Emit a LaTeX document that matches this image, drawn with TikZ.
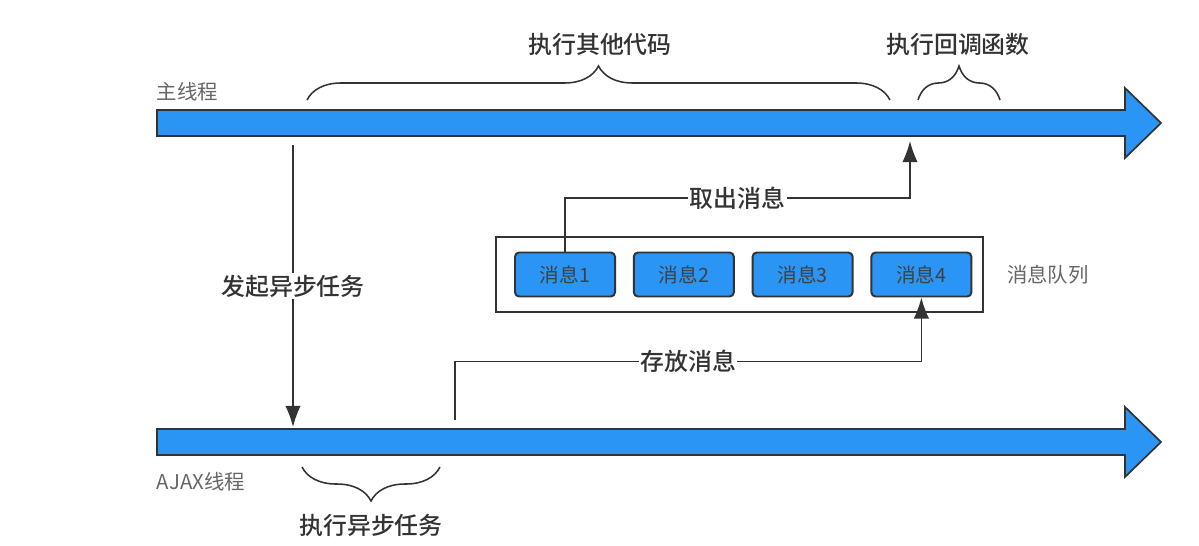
\documentclass[tikz,border=0pt]{standalone}
\usepackage{fontspec}
\setmainfont{Noto Sans CJK SC}
\newfontfamily\medfont{Noto Sans CJK SC Medium}
\usetikzlibrary{arrows.meta,calc,decorations.pathreplacing,positioning}
\definecolor{threadblue}{HTML}{2B95F6}
\definecolor{linegray}{HTML}{333333}

\begin{document}
\begin{tikzpicture}[x=0.025cm, y=-0.025cm,
  lbl/.style={font=\medfont\fontsize{17}{20}\selectfont, text=black!80},
  tag/.style={font=\fontsize{14.5}{17}\selectfont, text=black!60},
  msg/.style={draw=linegray, line width=1.4pt, fill=threadblue, rounded corners=3pt,
    minimum width=2.5cm, minimum height=1.1cm, inner sep=0pt,
    font=\fontsize{14}{16}\selectfont, text=black!75},
  link/.style={draw=linegray, line width=1.1pt},
  tip/.style={-{Latex[length=15pt,width=11pt]}},
  bracket/.style={decorate, decoration={brace, amplitude=0.85cm}, draw=linegray, line width=1.1pt}]
  \useasboundingbox (0,0) rectangle (1199,546);
  % 两条线程
  \foreach \yc in {123,442}
    \draw[draw=linegray, line width=1.2pt, fill=threadblue]
      (157,\yc-13) -- (1125,\yc-13) -- (1125,\yc-35) -- (1161,\yc)
      -- (1125,\yc+35) -- (1125,\yc+13) -- (157,\yc+13) -- cycle;
  \node[tag, anchor=west] (mainlbl) at (152,92) {主线程};
  \node[tag, anchor=west] (ajaxlbl) at (152,482) {AJAX线程};
  % 括号
  \draw[bracket] (307,100) -- (890,100);
  \node[lbl] (otherlbl) at (600,44) {执行其他代码};
  \draw[bracket] (918,100) -- (1000,100);
  \node[lbl] (cblbl) at (958,44) {执行回调函数};
  \draw[bracket, decoration={mirror}] (302,467) -- (440,467);
  \node[lbl] (asynclbl) at (371,525) {执行异步任务};
  % 消息队列
  \node[draw=linegray, line width=1.4pt, minimum width=12.175cm, minimum height=1.875cm]
    (queue) at (739.5,274.5) {};
  \node[msg] (m1) at (565,274.5) {消息1};
  \node[msg, right=0.42cm of m1] (m2) {消息2};
  \node[msg, right=0.42cm of m2] (m3) {消息3};
  \node[msg, right=0.42cm of m3] (m4) {消息4};
  \node[tag, right=0.45cm of queue] (queuelbl) {消息队列};
  % 连线
  \coordinate (launch) at (293,145);
  \coordinate (arrive) at (293,427);
  \coordinate (put) at (455,420);
  \coordinate (take) at (910,141);
  \draw[link, tip] (launch) -- node[lbl, fill=white, inner sep=1pt] {发起异步任务} (arrive);
  \draw[link, tip] (put) |- node[pos=0.75, lbl, fill=white, inner sep=1pt] {存放消息}
    ($(m4.south)+(0,64)$) -- (m4.south);
  \draw[link, tip] (m1.north) |- node[pos=0.75, lbl, fill=white, inner sep=1pt] {取出消息}
    ($(take)+(0,57)$) -- (take);
\end{tikzpicture}
\end{document}
